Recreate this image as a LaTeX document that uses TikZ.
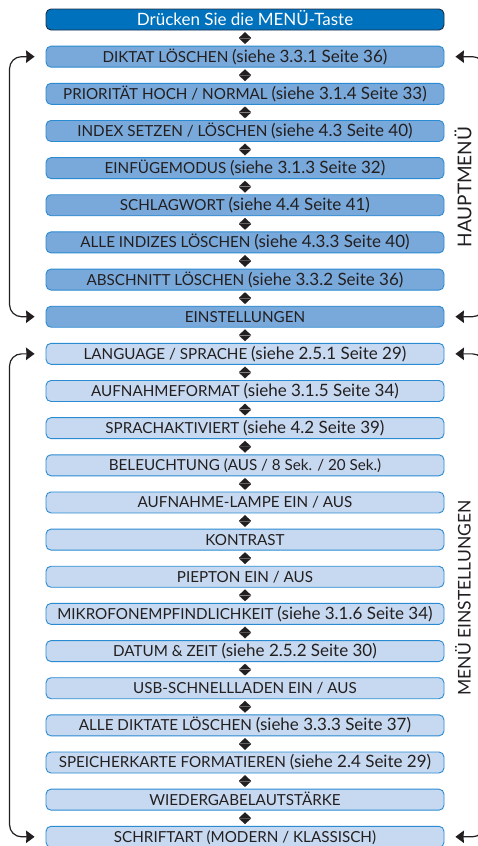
\documentclass[tikz,border=0pt]{standalone}
\usepackage{fontspec}
\setmainfont{Lato}
\usetikzlibrary{arrows.meta,calc}
\definecolor{topfill}{HTML}{0071BC}
\definecolor{topdraw}{HTML}{1B2F4A}
\definecolor{hmfill}{HTML}{79A9DA}
\definecolor{stfill}{HTML}{C6D9F0}
\definecolor{bxdraw}{HTML}{2A8AD2}
\definecolor{ink}{HTML}{231F20}
\newcommand\sref[1]{{\fontsize{17}{19}\selectfont #1}}
\tikzset{
  menubox/.style={draw=bxdraw, line width=0.9pt, rounded corners=5pt,
    minimum width=398pt, minimum height=21pt, inner sep=0pt,
    text height=10.9pt, text depth=0pt, text=ink,
    font=\fontsize{15.2}{17}\selectfont},
  topbox/.style={menubox, fill=topfill, draw=topdraw, text=white,
    font=\fontsize{17}{19}\selectfont, text height=12pt},
  hmbox/.style={menubox, fill=hmfill},
  stbox/.style={menubox, fill=stfill},
  dblarr/.style={draw=white, line width=0.8pt,
    {Triangle[length=5.6pt,width=12pt,color=ink,fill=ink,line width=0.01pt]}-{Triangle[length=5.6pt,width=12pt,color=ink,fill=ink,line width=0.01pt]},
    shorten <=1.8pt, shorten >=1.8pt},
  loop/.style={draw=ink, line width=1.2pt, rounded corners=12pt,
    {Stealth[length=8.5pt,width=12.5pt,inset=0.5pt]}-{Stealth[length=8.5pt,width=12.5pt,inset=0.5pt]}},
  sidelabel/.style={rotate=90, text=ink}
}
\begin{document}
\begin{tikzpicture}[x=1pt,y=-1pt]
\useasboundingbox (0,0) rectangle (478,846);
\clip (0,0) rectangle (478,846);
\fill[white] (0,0) rectangle (478,846);
\node[topbox] (b0) at (245,19.5) {Drücken Sie die MENÜ-Taste};
\node[hmbox] (b1) at (245,56.65) {DIKTAT LÖSCHEN \sref{(siehe 3.3.1 Seite 36)}};
\node[hmbox] (b2) at (245,93.8) {PRIORITÄT HOCH / NORMAL \sref{(siehe 3.1.4 Seite 33)}};
\node[hmbox] (b3) at (245,130.95) {INDEX SETZEN / LÖSCHEN \sref{(siehe 4.3 Seite 40)}};
\node[hmbox] (b4) at (245,168.1) {EINFÜGEMODUS \sref{(siehe 3.1.3 Seite 32)}};
\node[hmbox] (b5) at (245,205.25) {SCHLAGWORT \sref{(siehe 4.4 Seite 41)}};
\node[hmbox] (b6) at (245,242.4) {ALLE INDIZES LÖSCHEN \sref{(siehe 4.3.3 Seite 40)}};
\node[hmbox] (b7) at (245,279.55) {ABSCHNITT LÖSCHEN \sref{(siehe 3.3.2 Seite 36)}};
\node[hmbox] (b8) at (245,316.7) {EINSTELLUNGEN};
\node[stbox] (b9) at (245,353.85) {LANGUAGE / SPRACHE \sref{(siehe 2.5.1 Seite 29)}};
\node[stbox] (b10) at (245,391.0) {AUFNAHMEFORMAT \sref{(siehe 3.1.5 Seite 34)}};
\node[stbox] (b11) at (245,428.15) {SPRACHAKTIVIERT \sref{(siehe 4.2 Seite 39)}};
\node[stbox] (b12) at (245,465.3) {BELEUCHTUNG (AUS / 8 Sek. / 20 Sek.)};
\node[stbox] (b13) at (245,502.45) {AUFNAHME-LAMPE EIN / AUS};
\node[stbox] (b14) at (245,539.6) {KONTRAST};
\node[stbox] (b15) at (245,576.75) {PIEPTON EIN / AUS};
\node[stbox] (b16) at (245,613.9) {MIKROFONEMPFINDLICHKEIT \sref{(siehe 3.1.6 Seite 34)}};
\node[stbox] (b17) at (245,651.05) {DATUM \& ZEIT \sref{(siehe 2.5.2 Seite 30)}};
\node[stbox] (b18) at (245,688.2) {USB-SCHNELLLADEN EIN / AUS};
\node[stbox] (b19) at (245,725.35) {ALLE DIKTATE LÖSCHEN \sref{(siehe 3.3.3 Seite 37)}};
\node[stbox] (b20) at (245,762.5) {SPEICHERKARTE FORMATIEREN \sref{(siehe 2.4 Seite 29)}};
\node[stbox] (b21) at (245,799.65) {WIEDERGABELAUTSTÄRKE};
\node[stbox] (b22) at (245,836.8) {SCHRIFTART (MODERN / KLASSISCH)};
\foreach \a [evaluate=\a as \b using int(\a+1)] in {0,...,21}
  \draw[dblarr] (b\a.south) -- (b\b.north);
% brackets
\draw[loop] ([xshift=-11pt]b1.west) -- ++(-25,0) |- ([xshift=-11pt]b8.west);
\draw[loop] ([xshift=11pt]b1.east) -- ++(29,0) |- ([xshift=11pt]b8.east);
\draw[loop] ([xshift=-11pt]b9.west) -- ++(-25,0) |- ([xshift=-11pt]b22.west);
\draw[loop] ([xshift=11pt]b9.east) -- ++(29,0) |- ([xshift=11pt]b22.east);
\node[sidelabel, font=\fontsize{19}{21}\selectfont] (l1) at (463,187) {HAUPTMENÜ};
\node[sidelabel, font=\fontsize{17.5}{20}\selectfont] (l2) at (463,598) {MENÜ EINSTELLUNGEN};
\end{tikzpicture}
\end{document}
